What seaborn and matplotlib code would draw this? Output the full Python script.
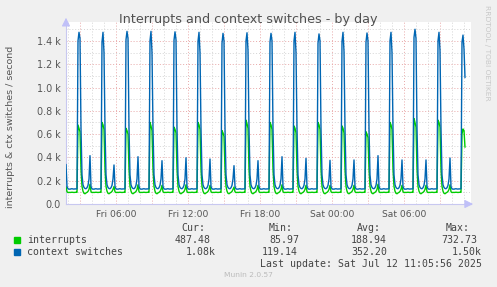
import numpy as np
import pandas as pd
import matplotlib
matplotlib.use("Agg")
import matplotlib.pyplot as plt
import seaborn as sns

# ---------------- data ----------------
# one 2-hour cycle sampled every 5 minutes; None marks the spike samples
CTX_CYCLE = [None, None, None, 650, 250, 165, 142, 133, 131, 140, 160, 215,
             None, 150, 130, 128, 127, 130, 131, 129, 128, 130, 129, 131]
INT_CYCLE = [None, None, None, 300, 150, 110, 92, 88, 95, 100, 108, 125,
             None, 105, 98, 100, 99, 100, 101, 100, 99, 100, 101, 100]
# big spikes (context switches / interrupts) for the 16 complete cycles
CTX_PEAK = [1474, 1474, 1482, 1482, 1478, 1474, 1465, 1470,
            1465, 1474, 1460, 1474, 1468, 1474, 1500, 1474]
CTX_RISE = [1400, 1390, 1410, 1400, 1405, 1395, 1380, 1400,
            1390, 1400, 1380, 1395, 1390, 1400, 1430, 1400]
CTX_FALL = [1420, 1300, 1420, 1300, 1410, 1300, 1400, 1320,
            1400, 1300, 1400, 1310, 1400, 1300, 1420, 1320]
INT_PEAK = [678, 700, 650, 700, 660, 700, 630, 720,
            700, 670, 700, 670, 620, 700, 733, 720]
INT_NEXT = [650, 680, 630, 670, 640, 680, 610, 690,
            680, 650, 680, 650, 600, 680, 700, 700]
INT_FALL = [620, 640, 600, 630, 610, 640, 580, 650,
            640, 610, 640, 610, 570, 640, 660, 660]
# small spikes one hour after each big one (first is the one at the left edge)
CTX_SMALL = [340, 415, 335, 406, 372, 397, 386, 329, 372,
             406, 392, 375, 378, 415, 378, 378, 395]
INT_SMALL = [150, 170, 150, 165, 160, 165, 160, 145, 160,
             165, 160, 160, 160, 170, 160, 160, 165]
# last, unfinished spike (ends at the last update)
CTX_LAST = [1390, 1450, 1330, 1085]
INT_LAST = [600, 644, 630, 487]
X_TICKS = [6, 12, 18, 24, 30]
X_LABELS = ["Fri 06:00", "Fri 12:00", "Fri 18:00", "Sat 00:00", "Sat 06:00"]
Y_TICKS = [0, 200, 400, 600, 800, 1000, 1200, 1400]
Y_LABELS = ["0.0", "0.2 k", "0.4 k", "0.6 k", "0.8 k", "1.0 k", "1.2 k", "1.4 k"]
LEGEND = [("interrupts", "487.48", "85.97", "188.94", "732.73"),
          ("context switches", "1.08k", "119.14", "352.20", "1.50k")]

# ---------------- assemble series ----------------
ctx, irq = [], []
def cycle_part(k, lo, hi, small_idx):
    for j in range(lo, hi):
        c, q = CTX_CYCLE[j], INT_CYCLE[j]
        if j == 0:
            c, q = CTX_RISE[k], INT_PEAK[k]
        elif j == 1:
            c, q = CTX_PEAK[k], INT_NEXT[k]
        elif j == 2:
            c, q = CTX_FALL[k], INT_FALL[k]
        elif j == 12:
            c, q = CTX_SMALL[small_idx], INT_SMALL[small_idx]
        ctx.append(c)
        irq.append(q)

cycle_part(0, 12, 24, 0)          # tail of previous cycle at left edge
for k in range(16):
    cycle_part(k, 0, 24, k + 1)
ctx += CTX_LAST
irq += INT_LAST

t0 = 1.8  # hours after Fri 00:00 of the first sample
hours = t0 + np.arange(len(ctx)) / 12.0
df = pd.DataFrame({
    "t": np.concatenate([hours, hours]),
    "v": np.concatenate([irq, ctx]),
    "s": ["interrupts"] * len(irq) + ["context switches"] * len(ctx),
})

# ---------------- figure ----------------
sns.set_style("white")
plt.rcParams["font.family"] = ["DejaVu Sans"]
W, H = 497, 287
fig = plt.figure(figsize=(W / 100, H / 100), dpi=100, facecolor="#F0F0F0")

xl, xr = 1.8, 35.55
y_top = 1560
left_px, bottom_px = 66, 204
right_px = left_px + (xr - xl) * 12
top_px = bottom_px - y_top * (23.3 / 200)
ax = fig.add_axes([left_px / W, 1 - bottom_px / H,
                   (right_px - left_px) / W, (bottom_px - top_px) / H])
ax.set_facecolor("white")

# grid
for h in range(2, 36):
    major = (h % 3 == 0)
    ax.axvline(h, color="#E8A8A8" if major else "#D4D4D4",
               lw=0.7, ls=(0, (1, 2)), zorder=0)
for v in range(100, 1600, 100):
    major = (v % 200 == 0)
    ax.axhline(v, color="#E8A8A8" if major else "#D4D4D4",
               lw=0.7, ls=(0, (1, 2)), zorder=0)

sns.lineplot(data=df, x="t", y="v", hue="s",
             palette={"interrupts": "#00CC00", "context switches": "#0066B3"},
             hue_order=["interrupts", "context switches"],
             linewidth=1.0, legend=False, ax=ax, zorder=3)

ax.set_xlim(xl, xr)
ax.set_ylim(0, y_top)
ax.set_xlabel("")
ax.set_ylabel("")
ax.set_xticks(X_TICKS)
ax.set_xticklabels(X_LABELS)
ax.set_yticks(Y_TICKS)
ax.set_yticklabels(Y_LABELS)
ax.set_xticks(range(2, 36), minor=True)
ax.set_yticks(range(100, 1600, 200), minor=True)
ax.tick_params(axis="x", which="major", labelsize=6.6, colors="#555555",
               length=2, width=0.5, pad=2)
ax.tick_params(axis="y", which="major", labelsize=6.9, colors="#555555",
               length=2, width=0.5, pad=2)
ax.tick_params(axis="both", which="minor", length=1.5, width=0.5,
               color="#999999")
ax.tick_params(axis="x", which="major", color="#999999")
ax.tick_params(axis="y", which="major", color="#999999")
for sp in ["top", "right"]:
    ax.spines[sp].set_visible(False)
for sp in ["left", "bottom"]:
    ax.spines[sp].set_color("#C8C8F0")
    ax.spines[sp].set_linewidth(0.8)
ax.annotate("", xy=(1.012, 0), xycoords="axes fraction", xytext=(0.99, 0),
            arrowprops=dict(arrowstyle="-|>,head_length=0.5,head_width=0.25",
                            color="#C0C0F8", lw=0.8), annotation_clip=False)
ax.annotate("", xy=(0, 1.04), xycoords="axes fraction", xytext=(0, 0.98),
            arrowprops=dict(arrowstyle="-|>,head_length=0.5,head_width=0.25",
                            color="#C0C0F8", lw=0.8), annotation_clip=False)

def fx(x): return x / W
def fy(y): return 1 - y / H

fig.text(fx(248), fy(19), "Interrupts and context switches - by day",
         ha="center", va="center", fontsize=9.2, color="#505050")
fig.text(fx(11), fy(127), "interrupts & ctx switches / second", rotation=90,
         ha="center", va="center", fontsize=6.8, color="#555555")
fig.text(fx(487), fy(53), "RRDTOOL / TOBI OETIKER", rotation=270,
         ha="center", va="center", fontsize=5.4, color="#C8C8C8")

mono = "DejaVu Sans Mono"
fs = 7.1
col = "#444444"
for name, xc in [("Cur:", 193), ("Min:", 281), ("Avg:", 369), ("Max:", 458)]:
    fig.text(fx(xc), fy(228), name, ha="center", va="center",
             family=mono, fontsize=fs, color=col)
rights = [(211, 216), (299, 298), (387, 387), (477, 482)]
for r, (row, y, c) in enumerate(zip(LEGEND, [240, 252], ["#00CC00", "#0066B3"])):
    fig.patches.append(plt.Rectangle((fx(14), fy(y + 3)), 6 / W, 6 / H,
                                     transform=fig.transFigure, color=c))
    fig.text(fx(27), fy(y), row[0], ha="left", va="center",
             family=mono, fontsize=fs, color=col)
    for j in range(4):
        fig.text(fx(rights[j][r]), fy(y), row[j + 1], ha="right", va="center",
                 family=mono, fontsize=fs, color=col)
fig.text(fx(482), fy(264), "Last update: Sat Jul 12 11:05:56 2025",
         ha="right", va="center", family=mono, fontsize=fs, color=col)
fig.text(fx(248), fy(275), "Munin 2.0.57", ha="center", va="center",
         fontsize=5.4, color="#BBBBBB")

fig.savefig("out.png", dpi=100, facecolor=fig.get_facecolor())
